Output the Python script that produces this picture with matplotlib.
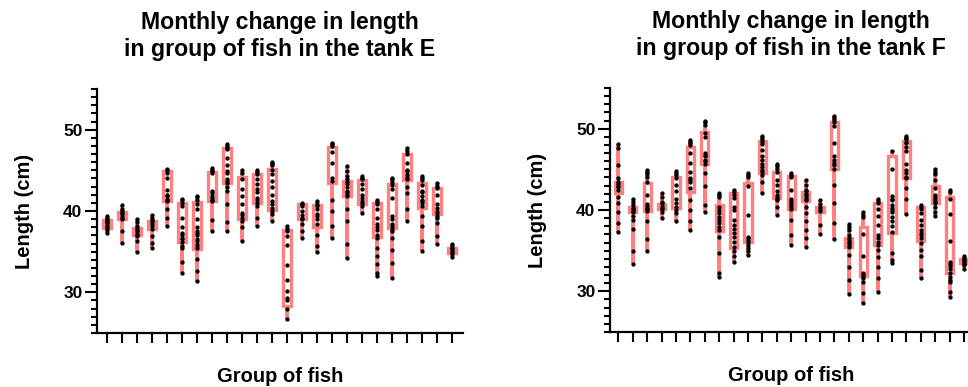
import numpy as np
import matplotlib
matplotlib.use("Agg")
import matplotlib.pyplot as plt

plt.rcParams['font.family'] = ['Liberation Sans', 'DejaVu Sans']

PINK = '#ff8080'

# Tank E: box edges (lower / upper) and individual fish lengths per group
tank_e_low = [37.96, 39.06, 37.06, 37.84, 41.23, 36.24, 35.3, 41.23, 43.4, 39.07, 41.03, 40.13,
              28.3, 38.98, 38.08, 43.4, 41.85, 40.82, 36.86, 37.96, 43.77, 40.41, 39.6, 34.89]
tank_e_high = [38.86, 39.92, 37.96, 38.78, 44.91, 40.95, 41.11, 44.79, 47.69, 44.18, 44.59, 45.2,
               37.7, 40.82, 40.7, 47.86, 43.69, 43.77, 40.95, 43.28, 46.96, 43.48, 42.87, 35.51]
tank_e_points = [
    [39.4, 39.2, 39.0, 38.8, 38.6, 38.5, 38.3, 38.1, 37.9, 37.7, 37.3],
    [40.7, 40.2, 40.0, 39.8, 39.6, 39.4, 39.2, 39.0, 37.5, 36.1],
    [39.0, 38.6, 38.2, 37.9, 37.7, 37.5, 37.3, 37.1, 36.9, 36.3, 34.9],
    [39.5, 39.2, 38.9, 38.6, 38.4, 38.2, 37.8, 36.9, 36.1, 35.4],
    [45.2, 45.0, 44.7, 44.0, 42.6, 42.0, 41.8, 41.5, 41.3, 41.2, 40.3, 39.1, 38.2],
    [41.5, 41.3, 41.0, 40.6, 39.2, 38.0, 37.3, 37.0, 36.7, 36.5, 36.2, 35.7, 35.4, 33.7, 32.4],
    [41.9, 41.7, 41.4, 40.8, 40.2, 39.0, 38.0, 37.6, 37.3, 37.0, 36.6, 36.3, 36.0, 35.7, 35.4,
     34.1, 32.6, 31.4],
    [45.3, 45.1, 44.9, 44.7, 42.5, 42.2, 41.9, 41.6, 41.4, 41.2, 38.9, 37.5],
    [48.2, 48.0, 47.8, 47.6, 46.5, 45.7, 44.9, 44.7, 43.9, 43.7, 43.5, 42.9, 42.5, 40.8, 38.6, 37.5],
    [45.0, 44.7, 43.9, 42.7, 41.8, 40.9, 39.8, 39.5, 39.2, 38.8, 38.0, 36.3],
    [45.0, 44.8, 44.5, 43.9, 43.3, 42.7, 42.3, 41.6, 41.3, 41.0, 40.6, 39.2, 38.2],
    [46.0, 45.8, 45.6, 45.1, 44.5, 43.7, 42.9, 42.0, 41.2, 40.8, 40.4, 40.0, 39.6, 38.8],
    [38.2, 37.8, 37.5, 36.9, 35.8, 33.3, 31.5, 30.2, 29.3, 29.0, 28.0, 26.7],
    [41.0, 40.8, 40.6, 40.0, 39.5, 39.2, 39.0, 38.4, 37.6, 36.7],
    [41.2, 40.9, 40.6, 40.2, 39.6, 39.4, 39.0, 38.4, 37.1, 35.7, 34.9],
    [48.4, 48.2, 48.0, 47.2, 45.9, 44.1, 43.7, 41.4, 40.0, 38.2, 36.7],
    [45.5, 44.9, 44.3, 43.9, 43.6, 43.3, 42.9, 42.5, 42.3, 42.1, 41.8, 40.2, 38.8, 35.9, 34.2],
    [44.3, 44.1, 43.9, 43.3, 42.7, 42.0, 41.6, 41.2, 41.0, 40.6, 39.8],
    [41.4, 41.1, 40.8, 40.2, 39.2, 38.4, 38.0, 37.7, 37.1, 36.7, 35.5, 34.5, 33.5, 32.4, 32.0],
    [44.1, 43.9, 43.6, 43.2, 42.7, 41.6, 39.4, 39.0, 38.4, 38.1, 37.8, 37.6, 36.7, 35.2, 33.6, 31.8],
    [47.7, 47.4, 47.0, 45.9, 45.1, 44.9, 44.5, 44.3, 44.1, 43.9, 43.0, 42.2, 40.3, 38.8],
    [44.3, 44.1, 43.8, 43.2, 42.5, 42.3, 41.8, 41.4, 41.2, 41.0, 40.6, 39.4, 38.2, 36.3, 35.1],
    [43.5, 43.1, 42.8, 42.0, 40.8, 40.4, 40.0, 39.7, 39.4, 39.2, 38.5, 36.9, 35.9],
    [35.9, 35.7, 35.5, 35.3, 35.1, 34.9, 34.7, 34.4],
]

# Tank F
tank_f_low = [42.14, 39.8, 39.92, 40.09, 40.21, 42.26, 45.67, 37.46, 35.28, 36.11, 44.6, 41.44,
              40.09, 41.15, 39.8, 45.01, 35.49, 31.88, 35.69, 37.13, 43.9, 36.23, 40.91, 32.29, 33.44]
tank_f_high = [43.49, 40.41, 43.37, 40.7, 44.11, 47.72, 49.65, 40.62, 42.06, 43.37, 48.54, 44.73,
               44.19, 42.26, 40.33, 50.76, 36.52, 37.95, 40.91, 46.7, 48.54, 40.33, 42.96, 41.56, 33.93]
tank_f_points = [
    [48.1, 47.6, 45.5, 43.9, 43.5, 43.2, 43.0, 42.8, 42.5, 41.6, 40.9, 39.8, 38.4, 37.3],
    [41.3, 41.0, 40.6, 40.3, 40.1, 39.9, 39.7, 39.3, 38.8, 37.7, 34.9, 33.4],
    [44.9, 44.7, 44.4, 44.1, 43.5, 41.9, 40.7, 40.5, 40.3, 40.1, 39.9, 38.7, 36.4, 34.9],
    [42.1, 41.6, 41.0, 40.8, 40.5, 40.3, 40.1, 39.8, 39.0],
    [44.8, 44.6, 44.3, 43.9, 43.1, 42.3, 41.4, 40.8, 40.4, 40.0, 39.6, 38.6],
    [48.6, 48.4, 48.2, 48.0, 47.0, 45.8, 44.7, 43.9, 43.7, 43.5, 42.7, 41.2, 40.0, 38.6, 37.6],
    [51.0, 50.8, 50.5, 49.5, 49.0, 47.0, 46.8, 46.6, 46.2, 46.0, 45.7, 44.6, 43.0, 40.6, 39.7],
    [42.1, 41.9, 41.6, 40.4, 40.0, 39.6, 39.2, 38.8, 38.4, 37.9, 37.6, 36.7, 34.7, 32.3, 31.8],
    [42.4, 42.2, 41.9, 41.5, 40.4, 40.0, 38.8, 38.2, 37.7, 37.2, 36.7, 36.1, 35.5, 34.9, 34.3, 33.6],
    [44.6, 44.3, 44.1, 42.9, 39.4, 36.7, 36.5, 36.3, 36.1, 35.7, 35.3, 34.9, 34.5],
    [49.1, 48.8, 48.6, 48.4, 48.1, 47.4, 46.6, 46.2, 45.7, 45.3, 44.9, 44.7, 44.3, 43.5, 42.1],
    [45.7, 45.4, 45.0, 44.7, 43.7, 43.1, 42.3, 41.8, 41.6, 41.4, 41.2, 40.4, 39.4],
    [44.6, 44.3, 44.1, 42.5, 41.4, 41.1, 40.9, 40.6, 40.4, 40.1, 38.8, 36.9, 35.7],
    [43.7, 43.1, 42.5, 42.3, 42.0, 41.8, 41.6, 41.4, 41.2, 40.4, 39.6, 38.6, 37.5, 36.5, 35.4],
    [41.2, 40.7, 40.4, 40.1, 39.9, 38.2, 37.1],
    [51.5, 51.3, 51.1, 50.8, 50.3, 48.2, 46.6, 46.2, 45.8, 45.5, 45.0, 43.1, 40.8, 38.4, 36.4],
    [38.3, 37.9, 37.5, 36.9, 36.5, 36.3, 36.1, 35.9, 35.7, 35.5, 34.5, 33.0, 31.4, 29.7],
    [39.7, 39.4, 39.1, 37.1, 34.3, 32.3, 32.1, 31.9, 31.6, 31.1, 29.8, 28.6],
    [41.3, 41.1, 40.8, 40.1, 39.3, 38.2, 36.9, 36.5, 36.1, 35.7, 35.1, 34.2, 33.0, 31.6, 29.9],
    [47.3, 45.0, 41.7, 41.4, 41.2, 40.6, 40.3, 40.0, 39.8, 39.2, 38.6, 38.0, 37.3, 34.7, 33.9, 33.5],
    [49.1, 48.9, 48.7, 48.4, 48.2, 47.8, 47.2, 45.7, 44.9, 44.5, 44.1, 43.9, 42.7, 41.4, 39.5],
    [40.6, 40.4, 40.1, 39.6, 38.8, 38.2, 37.5, 37.2, 36.9, 36.5, 36.0, 35.1, 34.3, 32.6, 31.7],
    [45.0, 44.7, 44.4, 43.7, 42.7, 41.9, 41.6, 41.3, 41.1, 40.9, 40.4, 39.8, 39.3],
    [42.5, 42.2, 41.4, 39.5, 36.2, 33.6, 33.3, 33.1, 32.7, 32.3, 31.8, 31.4, 31.1, 29.9, 29.3],
    [34.3, 34.1, 33.9, 33.8, 33.6, 33.4, 33.2, 32.8],
]


def draw_tank(ax, low, high, points, title, xlim):
    n = len(points)
    stats = []
    for lo, hi, pts in zip(low, high, points):
        stats.append(dict(med=(lo + hi) / 2, q1=lo, q3=hi,
                          whislo=min(pts), whishi=max(pts), fliers=[]))
    ax.bxp(stats, positions=np.arange(n), widths=0.5, patch_artist=True,
           showcaps=False, showfliers=False,
           boxprops=dict(facecolor='white', edgecolor=PINK, linewidth=2.4),
           whiskerprops=dict(color=PINK, linewidth=2.9, solid_capstyle='butt'),
           medianprops=dict(linestyle='none'))

    # every fish as a black dot on its group
    for i, pts in enumerate(points):
        ax.plot(np.full(len(pts), i), pts, 'o', color='black', ms=3.1,
                mec='black', mew=0, zorder=4)

    ax.set_xlim(*xlim)
    ax.set_ylim(25, 55)
    ax.set_xticks(np.arange(n))
    ax.set_xticklabels([])
    ax.set_yticks([30, 40, 50])
    ax.set_yticks(np.arange(25, 56, 1), minor=True)

    for side in ['top', 'right']:
        ax.spines[side].set_visible(False)
    for side in ['left', 'bottom']:
        ax.spines[side].set_linewidth(1.6)

    ax.tick_params(axis='y', which='major', length=8.5, width=1.5, labelsize=12.5, pad=2)
    ax.tick_params(axis='y', which='minor', length=4.5, width=1.5)
    ax.tick_params(axis='x', which='major', length=7, width=1.5)
    for lbl in ax.get_yticklabels():
        lbl.set_fontweight('bold')

    ax.set_ylabel("Length (cm)", fontsize=14.5, fontweight='bold', labelpad=21)
    ax.set_xlabel("Group of fish", fontsize=14.5, fontweight='bold', labelpad=14)
    ax.set_title(title, fontsize=16.7, fontweight='bold', pad=24, linespacing=1.22)


fig = plt.figure(figsize=(9.68, 3.87), dpi=100)
ax1 = fig.add_axes([97 / 968, 54 / 387, 366 / 968, 244 / 387])
ax2 = fig.add_axes([610 / 968, 55 / 387, 362 / 968, 244 / 387])

draw_tank(ax1, tank_e_low, tank_e_high, tank_e_points,
          "Monthly change in length\nin group of fish in the tank E", (-0.65, 23.75))
draw_tank(ax2, tank_f_low, tank_f_high, tank_f_points,
          "Monthly change in length\nin group of fish in the tank F", (-0.58, 24.55))

fig.savefig("out.png", dpi=100)
